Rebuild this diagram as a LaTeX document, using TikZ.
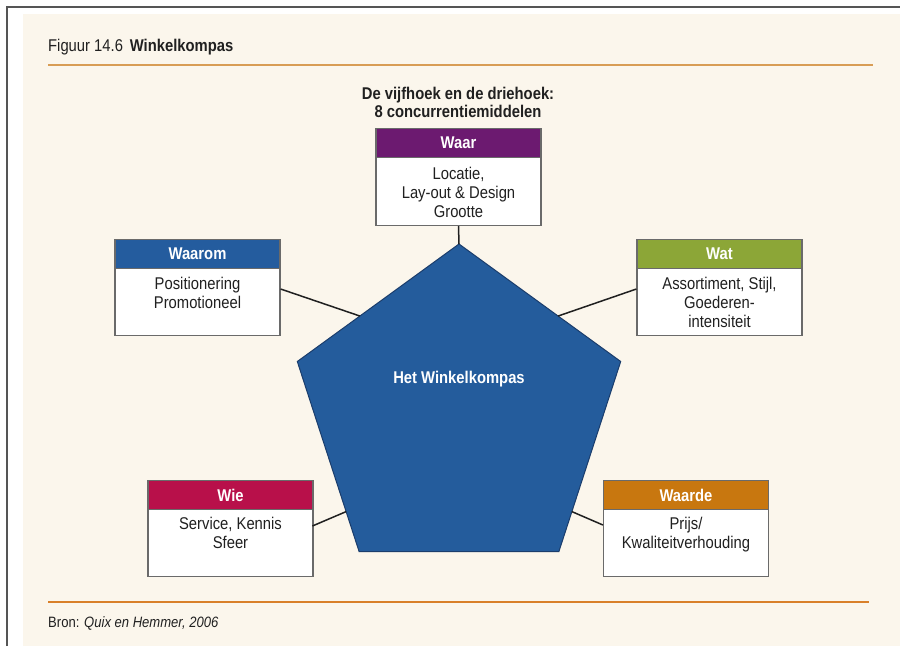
\documentclass[tikz,border=0pt]{standalone}
\usepackage{fontspec}
\setmainfont{Liberation Sans}[FakeStretch=0.87]
\usetikzlibrary{calc}

\definecolor{paper}{HTML}{FBF6EC}
\definecolor{frame}{HTML}{555555}
\definecolor{ink}{HTML}{202020}
\definecolor{boxline}{HTML}{6A6A6A}
\definecolor{ruletop}{HTML}{D89D55}
\definecolor{rulebot}{HTML}{D9802A}
\definecolor{cwaar}{HTML}{6C1A70}
\definecolor{cwaarom}{HTML}{245C9E}
\definecolor{cwat}{HTML}{8CA637}
\definecolor{cwie}{HTML}{B8104A}
\definecolor{cwaarde}{HTML}{C8770F}
\definecolor{penta}{HTML}{245C9C}
\definecolor{pentaline}{HTML}{1B3D6C}

\begin{document}
\begin{tikzpicture}[x=1pt,y=-1pt,
  hdr/.style={draw=boxline, line width=1.2pt, minimum width=165pt,
    minimum height=29pt, inner sep=0pt, text=white, anchor=north,
    font=\fontsize{17}{19}\selectfont\bfseries},
  bodybox/.style={draw=boxline, fill=white, line width=1.2pt,
    minimum width=165pt, minimum height=67pt, inner sep=0pt, anchor=north},
  bodytxt/.style={font=\fontsize{17}{19}\selectfont, text=ink, align=center,
    inner sep=0pt, anchor=north},
  link/.style={draw=ink, line width=1.5pt},
  plain/.style={inner sep=0pt, text=ink}]

% page, frame and paper
\useasboundingbox (0,0) rectangle (900,646);
\fill[white] (0,0) rectangle (900,646);
\fill[paper] (23,14) rectangle (900,646);
\draw[frame, line width=2pt] (7,646) -- (7,7) -- (900,7);

% heading and rules
\node[plain, anchor=base west, font=\fontsize{17}{19}\selectfont] (title) at (48,51)
  {Figuur 14.6\hspace{0.4em}\textbf{Winkelkompas}};
\coordinate (rtA) at (48,65);
\coordinate (rtB) at (873,65);
\draw[ruletop, line width=2.2pt] (rtA) -- (rtB);
\coordinate (rbA) at (48,602);
\coordinate (rbB) at (869,602);
\draw[rulebot, line width=2.2pt] (rbA) -- (rbB);
\node[plain, anchor=base west, font=\fontsize{15}{17}\selectfont] (bron) at (48,627)
  {Bron: \textit{Quix en Hemmer, 2006}};

\node[plain, align=center, font=\fontsize{17}{18}\selectfont\bfseries] (kop) at (458,102)
  {De vijfhoek en de driehoek:\\8 concurrentiemiddelen};

% the pentagon
\coordinate (p1) at (459,244);
\coordinate (p2) at (620.7,361.5);
\coordinate (p3) at (558.9,551.5);
\coordinate (p4) at (359.1,551.5);
\coordinate (p5) at (297.3,361.5);
\filldraw[fill=penta, draw=pentaline, line width=1pt, line join=miter]
  (p1) -- (p2) -- (p3) -- (p4) -- (p5) -- cycle;
\node[plain, text=white, font=\fontsize{17}{19}\selectfont\bfseries] (kompas) at (459,379)
  {Het Winkelkompas};

% attachment points on the pentagon edges
\coordinate (eWaarom) at ($(p1)!0.613!(p5)$);
\coordinate (eWat)    at ($(p1)!0.613!(p2)$);
\coordinate (eWie)    at ($(p5)!0.79!(p4)$);
\coordinate (eWaarde) at ($(p2)!0.79!(p3)$);

% Waar
\node[bodybox, minimum height=68pt] (waarB) at (458.5,157) {};
\node[hdr, fill=cwaar] (waarH) at (458.5,128) {Waar};
\node[bodytxt] (waarT) at ($(waarB.north)+(0,9.5)$) {Locatie,\\Lay-out \& Design\\Grootte};

% Waarom
\node[bodybox] (waaromB) at (197.5,268) {};
\node[hdr, fill=cwaarom] (waaromH) at (197.5,239) {Waarom};
\node[bodytxt] (waaromT) at ($(waaromB.north)+(0,9)$) {Positionering\\Promotioneel};

% Wat
\node[bodybox] (watB) at (719.5,268) {};
\node[hdr, fill=cwat] (watH) at (719.5,239) {Wat};
\node[bodytxt] (watT) at ($(watB.north)+(0,9)$) {Assortiment, Stijl,\\Goederen-\\intensiteit};

% Wie
\node[bodybox] (wieB) at (230.5,509) {};
\node[hdr, fill=cwie] (wieH) at (230.5,480) {Wie};
\node[bodytxt] (wieT) at ($(wieB.north)+(0,8)$) {Service, Kennis\\Sfeer};

% Waarde
\node[bodybox] (waardeB) at (686,509) {};
\node[hdr, fill=cwaarde] (waardeH) at (686,480) {Waarde};
\node[bodytxt] (waardeT) at ($(waardeB.north)+(0,8)$) {Prijs/\\Kwaliteitverhouding};

% connectors
\draw[link] (waarB.south) -- (p1);
\draw[link] ($(waaromB.north east)+(0,21)$) -- (eWaarom);
\draw[link] ($(watB.north west)+(0,21)$) -- (eWat);
\draw[link] ($(wieB.north west)+(165,17)$) -- (eWie);
\draw[link] ($(waardeB.north west)+(0,16)$) -- (eWaarde);

\end{tikzpicture}
\end{document}
